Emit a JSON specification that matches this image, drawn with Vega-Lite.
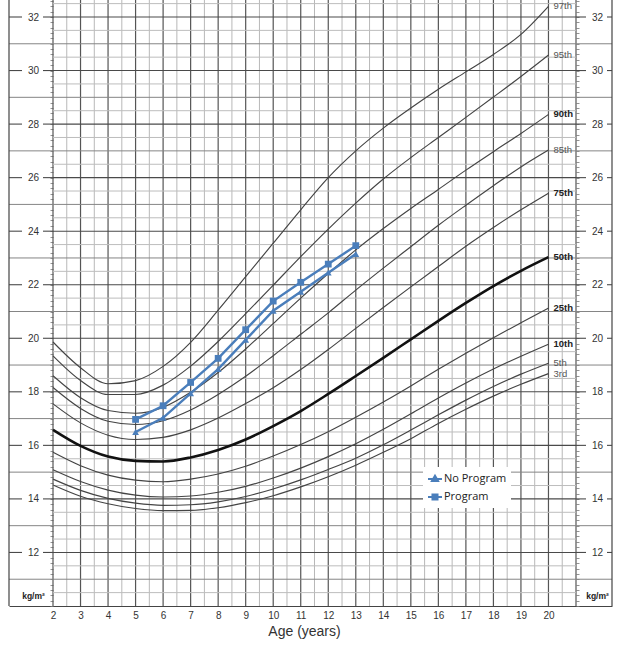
{
  "$schema": "https://vega.github.io/schema/vega-lite/v6.json",
  "width": 603,
  "height": 606,
  "autosize": {"type": "none"},
  "padding": {"left": 9, "top": 0, "right": 9, "bottom": 41},
  "background": "white",
  "config": {"view": {"stroke": null}, "font": "Liberation Sans"},
  "datasets": {
    "vhalf": [{"v":2.5},{"v":3.5},{"v":4.5},{"v":5.5},{"v":6.5},{"v":7.5},{"v":8.5},{"v":9.5},{"v":10.5},{"v":11.5},{"v":12.5},{"v":13.5},{"v":14.5},{"v":15.5},{"v":16.5},{"v":17.5},{"v":18.5},{"v":19.5},{"v":20.5}],
    "vint": [{"v":2},{"v":3},{"v":4},{"v":5},{"v":6},{"v":7},{"v":8},{"v":9},{"v":10},{"v":11},{"v":12},{"v":13},{"v":14},{"v":15},{"v":16},{"v":17},{"v":18},{"v":19},{"v":20},{"v":21}],
    "hhalf": [{"v":10.5},{"v":11.5},{"v":12.5},{"v":13.5},{"v":14.5},{"v":15.5},{"v":16.5},{"v":17.5},{"v":18.5},{"v":19.5},{"v":20.5},{"v":21.5},{"v":22.5},{"v":23.5},{"v":24.5},{"v":25.5},{"v":26.5},{"v":27.5},{"v":28.5},{"v":29.5},{"v":30.5},{"v":31.5},{"v":32.5}],
    "hodd": [{"v":11},{"v":13},{"v":15},{"v":17},{"v":19},{"v":21},{"v":23},{"v":25},{"v":27},{"v":29},{"v":31}],
    "heven": [{"v":12},{"v":14},{"v":16},{"v":18},{"v":20},{"v":22},{"v":24},{"v":26},{"v":28},{"v":30},{"v":32}],
    "pct": [
      {"age":2,"p":"3rd","bmi":14.52},{"age":2,"p":"5th","bmi":14.74},{"age":2,"p":"10th","bmi":15.09},{"age":2,"p":"25th","bmi":15.74},{"age":2,"p":"50th","bmi":16.58},{"age":2,"p":"75th","bmi":17.55},{"age":2,"p":"85th","bmi":18.16},{"age":2,"p":"90th","bmi":18.60},{"age":2,"p":"95th","bmi":19.34},{"age":2,"p":"97th","bmi":19.86},
      {"age":3,"p":"3rd","bmi":14.10},{"age":3,"p":"5th","bmi":14.32},{"age":3,"p":"10th","bmi":14.65},{"age":3,"p":"25th","bmi":15.24},{"age":3,"p":"50th","bmi":15.98},{"age":3,"p":"75th","bmi":16.84},{"age":3,"p":"85th","bmi":17.38},{"age":3,"p":"90th","bmi":17.78},{"age":3,"p":"95th","bmi":18.42},{"age":3,"p":"97th","bmi":18.90},
      {"age":4,"p":"3rd","bmi":13.82},{"age":4,"p":"5th","bmi":14.02},{"age":4,"p":"10th","bmi":14.33},{"age":4,"p":"25th","bmi":14.89},{"age":4,"p":"50th","bmi":15.58},{"age":4,"p":"75th","bmi":16.38},{"age":4,"p":"85th","bmi":16.90},{"age":4,"p":"90th","bmi":17.30},{"age":4,"p":"95th","bmi":17.90},{"age":4,"p":"97th","bmi":18.30},
      {"age":5,"p":"3rd","bmi":13.64},{"age":5,"p":"5th","bmi":13.84},{"age":5,"p":"10th","bmi":14.14},{"age":5,"p":"25th","bmi":14.70},{"age":5,"p":"50th","bmi":15.42},{"age":5,"p":"75th","bmi":16.22},{"age":5,"p":"85th","bmi":16.78},{"age":5,"p":"90th","bmi":17.20},{"age":5,"p":"95th","bmi":17.90},{"age":5,"p":"97th","bmi":18.42},
      {"age":6,"p":"3rd","bmi":13.56},{"age":6,"p":"5th","bmi":13.76},{"age":6,"p":"10th","bmi":14.07},{"age":6,"p":"25th","bmi":14.64},{"age":6,"p":"50th","bmi":15.40},{"age":6,"p":"75th","bmi":16.30},{"age":6,"p":"85th","bmi":16.92},{"age":6,"p":"90th","bmi":17.42},{"age":6,"p":"95th","bmi":18.25},{"age":6,"p":"97th","bmi":18.95},
      {"age":7,"p":"3rd","bmi":13.57},{"age":7,"p":"5th","bmi":13.78},{"age":7,"p":"10th","bmi":14.11},{"age":7,"p":"25th","bmi":14.74},{"age":7,"p":"50th","bmi":15.55},{"age":7,"p":"75th","bmi":16.58},{"age":7,"p":"85th","bmi":17.32},{"age":7,"p":"90th","bmi":17.98},{"age":7,"p":"95th","bmi":18.96},{"age":7,"p":"97th","bmi":19.85},
      {"age":8,"p":"3rd","bmi":13.67},{"age":8,"p":"5th","bmi":13.89},{"age":8,"p":"10th","bmi":14.25},{"age":8,"p":"25th","bmi":14.93},{"age":8,"p":"50th","bmi":15.83},{"age":8,"p":"75th","bmi":17.02},{"age":8,"p":"85th","bmi":17.90},{"age":8,"p":"90th","bmi":18.72},{"age":8,"p":"95th","bmi":19.88},{"age":8,"p":"97th","bmi":21.05},
      {"age":9,"p":"3rd","bmi":13.86},{"age":9,"p":"5th","bmi":14.09},{"age":9,"p":"10th","bmi":14.47},{"age":9,"p":"25th","bmi":15.22},{"age":9,"p":"50th","bmi":16.22},{"age":9,"p":"75th","bmi":17.56},{"age":9,"p":"85th","bmi":18.58},{"age":9,"p":"90th","bmi":19.60},{"age":9,"p":"95th","bmi":20.92},{"age":9,"p":"97th","bmi":22.30},
      {"age":10,"p":"3rd","bmi":14.12},{"age":10,"p":"5th","bmi":14.37},{"age":10,"p":"10th","bmi":14.78},{"age":10,"p":"25th","bmi":15.60},{"age":10,"p":"50th","bmi":16.72},{"age":10,"p":"75th","bmi":18.15},{"age":10,"p":"85th","bmi":19.35},{"age":10,"p":"90th","bmi":20.55},{"age":10,"p":"95th","bmi":21.98},{"age":10,"p":"97th","bmi":23.55},
      {"age":11,"p":"3rd","bmi":14.45},{"age":11,"p":"5th","bmi":14.71},{"age":11,"p":"10th","bmi":15.15},{"age":11,"p":"25th","bmi":16.03},{"age":11,"p":"50th","bmi":17.28},{"age":11,"p":"75th","bmi":18.83},{"age":11,"p":"85th","bmi":20.15},{"age":11,"p":"90th","bmi":21.50},{"age":11,"p":"95th","bmi":23.05},{"age":11,"p":"97th","bmi":24.80},
      {"age":12,"p":"3rd","bmi":14.83},{"age":12,"p":"5th","bmi":15.10},{"age":12,"p":"10th","bmi":15.58},{"age":12,"p":"25th","bmi":16.51},{"age":12,"p":"50th","bmi":17.92},{"age":12,"p":"75th","bmi":19.58},{"age":12,"p":"85th","bmi":20.95},{"age":12,"p":"90th","bmi":22.42},{"age":12,"p":"95th","bmi":24.08},{"age":12,"p":"97th","bmi":26.00},
      {"age":13,"p":"3rd","bmi":15.26},{"age":13,"p":"5th","bmi":15.52},{"age":13,"p":"10th","bmi":16.06},{"age":13,"p":"25th","bmi":17.05},{"age":13,"p":"50th","bmi":18.59},{"age":13,"p":"75th","bmi":20.37},{"age":13,"p":"85th","bmi":21.80},{"age":13,"p":"90th","bmi":23.30},{"age":13,"p":"95th","bmi":25.05},{"age":13,"p":"97th","bmi":27.00},
      {"age":14,"p":"3rd","bmi":15.74},{"age":14,"p":"5th","bmi":16.02},{"age":14,"p":"10th","bmi":16.60},{"age":14,"p":"25th","bmi":17.62},{"age":14,"p":"50th","bmi":19.27},{"age":14,"p":"75th","bmi":21.15},{"age":14,"p":"85th","bmi":22.62},{"age":14,"p":"90th","bmi":24.10},{"age":14,"p":"95th","bmi":25.95},{"age":14,"p":"97th","bmi":27.85},
      {"age":15,"p":"3rd","bmi":16.25},{"age":15,"p":"5th","bmi":16.57},{"age":15,"p":"10th","bmi":17.18},{"age":15,"p":"25th","bmi":18.22},{"age":15,"p":"50th","bmi":19.96},{"age":15,"p":"75th","bmi":21.92},{"age":15,"p":"85th","bmi":23.42},{"age":15,"p":"90th","bmi":24.85},{"age":15,"p":"95th","bmi":26.75},{"age":15,"p":"97th","bmi":28.60},
      {"age":16,"p":"3rd","bmi":16.82},{"age":16,"p":"5th","bmi":17.14},{"age":16,"p":"10th","bmi":17.77},{"age":16,"p":"25th","bmi":18.84},{"age":16,"p":"50th","bmi":20.65},{"age":16,"p":"75th","bmi":22.68},{"age":16,"p":"85th","bmi":24.22},{"age":16,"p":"90th","bmi":25.56},{"age":16,"p":"95th","bmi":27.50},{"age":16,"p":"97th","bmi":29.30},
      {"age":17,"p":"3rd","bmi":17.35},{"age":17,"p":"5th","bmi":17.69},{"age":17,"p":"10th","bmi":18.33},{"age":17,"p":"25th","bmi":19.44},{"age":17,"p":"50th","bmi":21.32},{"age":17,"p":"75th","bmi":23.44},{"age":17,"p":"85th","bmi":24.97},{"age":17,"p":"90th","bmi":26.28},{"age":17,"p":"95th","bmi":28.25},{"age":17,"p":"97th","bmi":29.95},
      {"age":18,"p":"3rd","bmi":17.84},{"age":18,"p":"5th","bmi":18.20},{"age":18,"p":"10th","bmi":18.85},{"age":18,"p":"25th","bmi":20.02},{"age":18,"p":"50th","bmi":21.95},{"age":18,"p":"75th","bmi":24.14},{"age":18,"p":"85th","bmi":25.70},{"age":18,"p":"90th","bmi":26.97},{"age":18,"p":"95th","bmi":29.01},{"age":18,"p":"97th","bmi":30.60},
      {"age":19,"p":"3rd","bmi":18.28},{"age":19,"p":"5th","bmi":18.66},{"age":19,"p":"10th","bmi":19.33},{"age":19,"p":"25th","bmi":20.58},{"age":19,"p":"50th","bmi":22.52},{"age":19,"p":"75th","bmi":24.80},{"age":19,"p":"85th","bmi":26.40},{"age":19,"p":"90th","bmi":27.65},{"age":19,"p":"95th","bmi":29.78},{"age":19,"p":"97th","bmi":31.35},
      {"age":20,"p":"3rd","bmi":18.68},{"age":20,"p":"5th","bmi":19.07},{"age":20,"p":"10th","bmi":19.78},{"age":20,"p":"25th","bmi":21.13},{"age":20,"p":"50th","bmi":23.03},{"age":20,"p":"75th","bmi":25.42},{"age":20,"p":"85th","bmi":27.03},{"age":20,"p":"90th","bmi":28.36},{"age":20,"p":"95th","bmi":30.58},{"age":20,"p":"97th","bmi":32.40}
    ],
    "study": [
      {"age":5,"group":"No Program","bmi":16.50},{"age":6,"group":"No Program","bmi":17.03},{"age":7,"group":"No Program","bmi":17.94},{"age":8,"group":"No Program","bmi":18.85},{"age":9,"group":"No Program","bmi":19.94},{"age":10,"group":"No Program","bmi":21.03},{"age":11,"group":"No Program","bmi":21.74},{"age":12,"group":"No Program","bmi":22.45},{"age":13,"group":"No Program","bmi":23.15},
      {"age":5,"group":"Program","bmi":16.97},{"age":6,"group":"Program","bmi":17.48},{"age":7,"group":"Program","bmi":18.35},{"age":8,"group":"Program","bmi":19.25},{"age":9,"group":"Program","bmi":20.32},{"age":10,"group":"Program","bmi":21.39},{"age":11,"group":"Program","bmi":22.09},{"age":12,"group":"Program","bmi":22.77},{"age":13,"group":"Program","bmi":23.46}
    ]
  },
  "layer": [
    {
      "data": {"name": "vhalf"},
      "mark": {"type": "rule", "color": "#b8b8b8", "strokeWidth": 1},
      "encoding": {
        "x": {"field": "v", "type": "quantitative", "scale": {"domain": [0.4015, 22.308], "nice": false, "zero": false},
          "axis": {"orient": "bottom", "values": [2,3,4,5,6,7,8,9,10,11,12,13,14,15,16,17,18,19,20], "format": "d", "ticks": false, "grid": false, "domain": true, "domainColor": "#444", "domainWidth": 1.2, "labelPadding": 4, "labelFontSize": 10, "labelColor": "#333", "labelFlush": false, "labelOverlap": false, "title": "Age (years)", "titleFontSize": 14, "titleFontWeight": "normal", "titleColor": "#333", "titlePadding": 4, "titleX": 295}}
      }
    },
    {
      "data": {"name": "vint"},
      "mark": {"type": "rule", "color": "#555", "strokeWidth": 1.2},
      "encoding": {
        "x": {"field": "v", "type": "quantitative", "scale": {"domain": [0.4015, 22.308], "nice": false, "zero": false}, "axis": null}
      }
    },
    {
      "data": {"name": "hhalf"},
      "mark": {"type": "rule", "color": "#bdbdbd", "strokeWidth": 1},
      "encoding": {
        "y": {"field": "v", "type": "quantitative", "scale": {"domain": [10, 32.635], "nice": false, "zero": false},
          "axis": {"orient": "left", "offset": -44, "values": [10,10.2,10.4,10.6,10.8,11,11.2,11.4,11.6,11.8,12,12.2,12.4,12.6,12.8,13,13.2,13.4,13.6,13.8,14,14.2,14.4,14.6,14.8,15,15.2,15.4,15.6,15.8,16,16.2,16.4,16.6,16.8,17,17.2,17.4,17.6,17.8,18,18.2,18.4,18.6,18.8,19,19.2,19.4,19.6,19.8,20,20.2,20.4,20.6,20.8,21,21.2,21.4,21.6,21.8,22,22.2,22.4,22.6,22.8,23,23.2,23.4,23.6,23.8,24,24.2,24.4,24.6,24.8,25,25.2,25.4,25.6,25.8,26,26.2,26.4,26.6,26.8,27,27.2,27.4,27.6,27.8,28,28.2,28.4,28.6,28.8,29,29.2,29.4,29.6,29.8,30,30.2,30.4,30.6,30.8,31,31.2,31.4,31.6,31.8,32,32.2,32.4,32.6],
            "tickSize": 3, "tickColor": "#777", "tickWidth": 0.8, "domain": false, "grid": false,
            "labelExpr": "datum.value >= 12 && datum.value % 2 === 0 ? format(datum.value, 'd') : ''",
            "labelAlign": "center", "labelBaseline": "middle", "labelPadding": 17, "labelFontSize": 10, "labelColor": "#333", "labelOverlap": false, "labelFlush": false, "labelBound": false,
            "title": "kg/m²", "titleAngle": 0, "titleX": -20, "titleY": 595, "titleAlign": "center", "titleBaseline": "middle", "titleFontSize": 8.5, "titleFontWeight": "bold", "titleColor": "#222"}},
        "x": {"datum": 2, "type": "quantitative", "scale": {"domain": [0.4015, 22.308], "nice": false, "zero": false}, "axis": null},
        "x2": {"datum": 21}
      }
    },
    {
      "data": {"name": "hodd"},
      "mark": {"type": "rule", "color": "#858585", "strokeWidth": 1},
      "encoding": {
        "y": {"field": "v", "type": "quantitative", "scale": {"domain": [10, 32.635], "nice": false, "zero": false},
          "axis": {"orient": "right", "offset": -36, "values": [10,10.2,10.4,10.6,10.8,11,11.2,11.4,11.6,11.8,12,12.2,12.4,12.6,12.8,13,13.2,13.4,13.6,13.8,14,14.2,14.4,14.6,14.8,15,15.2,15.4,15.6,15.8,16,16.2,16.4,16.6,16.8,17,17.2,17.4,17.6,17.8,18,18.2,18.4,18.6,18.8,19,19.2,19.4,19.6,19.8,20,20.2,20.4,20.6,20.8,21,21.2,21.4,21.6,21.8,22,22.2,22.4,22.6,22.8,23,23.2,23.4,23.6,23.8,24,24.2,24.4,24.6,24.8,25,25.2,25.4,25.6,25.8,26,26.2,26.4,26.6,26.8,27,27.2,27.4,27.6,27.8,28,28.2,28.4,28.6,28.8,29,29.2,29.4,29.6,29.8,30,30.2,30.4,30.6,30.8,31,31.2,31.4,31.6,31.8,32,32.2,32.4,32.6],
            "tickSize": 3, "tickColor": "#777", "tickWidth": 0.8, "domain": false, "grid": false,
            "labelExpr": "datum.value >= 12 && datum.value % 2 === 0 ? format(datum.value, 'd') : ''",
            "labelAlign": "center", "labelBaseline": "middle", "labelPadding": 18, "labelFontSize": 10, "labelColor": "#333", "labelOverlap": false, "labelFlush": false, "labelBound": false,
            "title": "kg/m²", "titleAngle": 0, "titleX": 21, "titleY": 595, "titleAlign": "center", "titleBaseline": "middle", "titleFontSize": 8.5, "titleFontWeight": "bold", "titleColor": "#222"}}
      }
    },
    {
      "data": {"name": "heven"},
      "mark": {"type": "rule", "color": "#4a4a4a", "strokeWidth": 1.1},
      "encoding": {
        "y": {"field": "v", "type": "quantitative", "scale": {"domain": [10, 32.635], "nice": false, "zero": false}, "axis": null},
        "x": {"datum": 2, "type": "quantitative", "scale": {"domain": [0.4015, 22.308], "nice": false, "zero": false}, "axis": null},
        "x2": {"datum": 21}
      }
    },
    {
      "data": {"name": "heven"},
      "mark": {"type": "rule", "color": "#4a4a4a", "strokeWidth": 1.1},
      "encoding": {
        "y": {"field": "v", "type": "quantitative", "scale": {"domain": [10, 32.635], "nice": false, "zero": false}, "axis": null},
        "x": {"datum": 0.4015, "type": "quantitative", "scale": {"domain": [0.4015, 22.308], "nice": false, "zero": false}, "axis": null},
        "x2": {"datum": 0.874}
      }
    },
    {
      "data": {"name": "heven"},
      "mark": {"type": "rule", "color": "#4a4a4a", "strokeWidth": 1.1},
      "encoding": {
        "y": {"field": "v", "type": "quantitative", "scale": {"domain": [10, 32.635], "nice": false, "zero": false}, "axis": null},
        "x": {"datum": 1.637, "type": "quantitative", "scale": {"domain": [0.4015, 22.308], "nice": false, "zero": false}, "axis": null},
        "x2": {"datum": 2}
      }
    },
    {
      "data": {"name": "heven"},
      "mark": {"type": "rule", "color": "#4a4a4a", "strokeWidth": 1.1},
      "encoding": {
        "y": {"field": "v", "type": "quantitative", "scale": {"domain": [10, 32.635], "nice": false, "zero": false}, "axis": null},
        "x": {"datum": 21, "type": "quantitative", "scale": {"domain": [0.4015, 22.308], "nice": false, "zero": false}, "axis": null},
        "x2": {"datum": 21.363}
      }
    },
    {
      "data": {"name": "heven"},
      "mark": {"type": "rule", "color": "#4a4a4a", "strokeWidth": 1.1},
      "encoding": {
        "y": {"field": "v", "type": "quantitative", "scale": {"domain": [10, 32.635], "nice": false, "zero": false}, "axis": null},
        "x": {"datum": 22.126, "type": "quantitative", "scale": {"domain": [0.4015, 22.308], "nice": false, "zero": false}, "axis": null},
        "x2": {"datum": 22.308}
      }
    },
    {
      "data": {"values": [{"edge": 0.4015}, {"edge": 22.308}]},
      "mark": {"type": "rule", "color": "#444", "strokeWidth": 1.2},
      "encoding": {
        "x": {"field": "edge", "type": "quantitative", "scale": {"domain": [0.4015, 22.308], "nice": false, "zero": false}, "axis": null}
      }
    },
    {
      "data": {"name": "pct"},
      "transform": [{"filter": "datum.p !== '50th'"}],
      "mark": {"type": "line", "color": "#444", "strokeWidth": 1.15, "interpolate": "monotone"},
      "encoding": {
        "x": {"field": "age", "type": "quantitative", "scale": {"domain": [0.4015, 22.308], "nice": false, "zero": false}, "axis": null},
        "y": {"field": "bmi", "type": "quantitative", "scale": {"domain": [10, 32.635], "nice": false, "zero": false}, "axis": null},
        "detail": {"field": "p"}
      }
    },
    {
      "data": {"name": "pct"},
      "transform": [{"filter": "datum.p === '50th'"}],
      "mark": {"type": "line", "color": "#111", "strokeWidth": 2.6, "interpolate": "monotone"},
      "encoding": {
        "x": {"field": "age", "type": "quantitative", "scale": {"domain": [0.4015, 22.308], "nice": false, "zero": false}, "axis": null},
        "y": {"field": "bmi", "type": "quantitative", "scale": {"domain": [10, 32.635], "nice": false, "zero": false}, "axis": null}
      }
    },
    {
      "data": {"name": "pct"},
      "transform": [{"filter": "datum.age === 20 && (datum.p === '10th' || datum.p === '25th' || datum.p === '50th' || datum.p === '75th' || datum.p === '90th')"}],
      "mark": {"type": "text", "align": "left", "baseline": "middle", "dx": 5, "fontSize": 9.5, "fontWeight": "bold", "color": "#222"},
      "encoding": {
        "x": {"field": "age", "type": "quantitative", "scale": {"domain": [0.4015, 22.308], "nice": false, "zero": false}, "axis": null},
        "y": {"field": "bmi", "type": "quantitative", "scale": {"domain": [10, 32.635], "nice": false, "zero": false}, "axis": null},
        "text": {"field": "p"}
      }
    },
    {
      "data": {"name": "pct"},
      "transform": [{"filter": "datum.age === 20 && (datum.p === '3rd' || datum.p === '5th' || datum.p === '85th' || datum.p === '95th' || datum.p === '97th')"}],
      "mark": {"type": "text", "align": "left", "baseline": "middle", "dx": 5, "fontSize": 9.5, "color": "#555"},
      "encoding": {
        "x": {"field": "age", "type": "quantitative", "scale": {"domain": [0.4015, 22.308], "nice": false, "zero": false}, "axis": null},
        "y": {"field": "bmi", "type": "quantitative", "scale": {"domain": [10, 32.635], "nice": false, "zero": false}, "axis": null},
        "text": {"field": "p"}
      }
    },
    {
      "data": {"name": "study"},
      "mark": {"type": "line", "color": "#4a7ebb", "strokeWidth": 2.4},
      "encoding": {
        "x": {"field": "age", "type": "quantitative", "scale": {"domain": [0.4015, 22.308], "nice": false, "zero": false}, "axis": null},
        "y": {"field": "bmi", "type": "quantitative", "scale": {"domain": [10, 32.635], "nice": false, "zero": false}, "axis": null},
        "detail": {"field": "group"}
      }
    },
    {
      "data": {"name": "study"},
      "mark": {"type": "point", "filled": true, "size": 46, "opacity": 1, "color": "#4a7ebb"},
      "encoding": {
        "x": {"field": "age", "type": "quantitative", "scale": {"domain": [0.4015, 22.308], "nice": false, "zero": false}, "axis": null},
        "y": {"field": "bmi", "type": "quantitative", "scale": {"domain": [10, 32.635], "nice": false, "zero": false}, "axis": null},
        "shape": {"field": "group", "type": "nominal", "scale": {"domain": ["No Program", "Program"], "range": ["triangle-up", "square"]}, "legend": null}
      }
    },
    {
      "data": {"name": "study"},
      "mark": {"type": "point", "filled": false, "color": "#4a7ebb", "strokeWidth": 2, "opacity": 0},
      "encoding": {
        "x": {"field": "age", "type": "quantitative", "scale": {"domain": [0.4015, 22.308], "nice": false, "zero": false}, "axis": null},
        "y": {"field": "bmi", "type": "quantitative", "scale": {"domain": [10, 32.635], "nice": false, "zero": false}, "axis": null},
        "shape": {"field": "group", "type": "nominal", "scale": {"domain": ["No Program", "Program"], "range": ["M-1,0H1M0,-0.46L0.44,0.3H-0.44ZM0,-0.22L0.22,0.16H-0.22ZM0,-0.05L0.05,0.04H-0.05Z", "M-1,0H1M-0.36,-0.36H0.36V0.36H-0.36ZM-0.2,-0.2H0.2V0.2H-0.2ZM-0.05,-0.05H0.05V0.05H-0.05Z"]},
          "legend": {"title": null, "orient": "none", "legendX": 414, "legendY": 467, "fillColor": "white", "padding": 4, "symbolSize": 196, "symbolOpacity": 1, "symbolStrokeWidth": 2, "symbolStrokeColor": "#4a7ebb", "labelFont": "Open Sans", "labelFontSize": 11, "labelColor": "#222", "labelOffset": 1, "rowPadding": 3}}
      }
    }
  ],
  "resolve": {"axis": {"x": "independent", "y": "independent"}, "scale": {"shape": "independent"}}
}
